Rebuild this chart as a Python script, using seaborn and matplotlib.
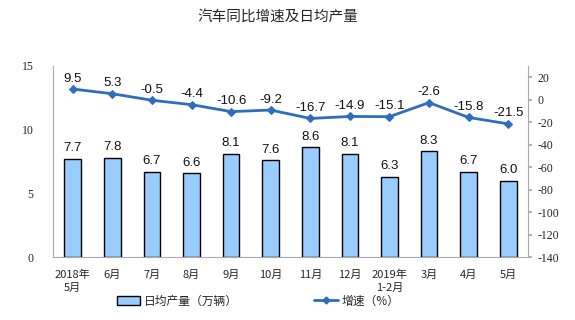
import matplotlib
matplotlib.use("Agg")
import matplotlib.pyplot as plt
import seaborn as sns
import pandas as pd
import numpy as np
from matplotlib.patches import Patch
from matplotlib.lines import Line2D

categories = ["2018年\n5月", "6月", "7月", "8月", "9月", "10月", "11月", "12月", "2019年\n1-2月", "3月", "4月", "5月"]
daily_output = [7.7, 7.8, 6.7, 6.6, 8.1, 7.6, 8.6, 8.1, 6.3, 8.3, 6.7, 6.0]
growth = [9.5, 5.3, -0.5, -4.4, -10.6, -9.2, -16.7, -14.9, -15.1, -2.6, -15.8, -21.5]
left_ticks = [0, 5, 10, 15]
right_ticks = [20, 0, -20, -40, -60, -80, -100, -120, -140]

sns.set_theme(style="white")
plt.rcParams['font.family'] = ['Noto Sans CJK SC', 'DejaVu Sans']

df = pd.DataFrame({"cat": categories, "out": daily_output, "g": growth, "x": range(len(categories))})

fig = plt.figure(figsize=(5.75, 3.2), dpi=100)
ax = fig.add_axes([53/575, 1 - 257/320, (528 - 53)/575, (257 - 66)/320])

bar_color = "#99CCFF"
line_color = "#2E6EBA"

sns.barplot(data=df, x="cat", y="out", ax=ax, color=bar_color, edgecolor="black",
            linewidth=1.0, width=0.42, saturation=1)
ax.set_ylim(0, 15)
ax.set_yticks(left_ticks)
ax.set_yticklabels([str(t) for t in left_ticks], family="Liberation Serif", fontsize=8.5)
ax.set_xlabel("")
ax.set_ylabel("")
ax.tick_params(axis="x", labelsize=8, pad=9, length=0)
for lab in ax.get_xticklabels():
    lab.set_linespacing(1.35)
ax.tick_params(axis="y", length=0, pad=14)
ax.set_xlim(-0.5, len(categories) - 0.5)
for i, v in enumerate(daily_output):
    ax.text(i, v + 0.35, f"{v:.1f}", ha="center", va="bottom", fontsize=9.5,
            family="Liberation Sans", color="#111111")

for s in ["top", "right"]:
    ax.spines[s].set_visible(False)
for s in ["left", "bottom"]:
    ax.spines[s].set_color("#AAAAAA")
    ax.spines[s].set_linewidth(0.8)
ax.set_xticks(np.arange(-0.5, len(categories), 1), minor=True)
ax.tick_params(axis="x", which="minor", length=3, color="#AAAAAA", direction="out")

ax2 = ax.twinx()
sns.lineplot(data=df, x="x", y="g", ax=ax2, color=line_color, linewidth=2,
             marker="D", markersize=4.5, markeredgecolor=line_color)
ax2.set_ylim(-140, 30)
ax2.set_yticks(right_ticks)
ax2.set_yticklabels([str(t) for t in right_ticks], family="Liberation Serif", fontsize=8.5)
ax2.set_ylabel("")
ax2.tick_params(axis="y", length=3, color="#AAAAAA", direction="out", pad=4)
for s in ["top", "left", "bottom"]:
    ax2.spines[s].set_visible(False)
ax2.spines["right"].set_color("#AAAAAA")
ax2.spines["right"].set_linewidth(0.8)
for i, v in enumerate(growth):
    ax2.text(i, v + 4, f"{v}", ha="center", va="bottom", fontsize=9.5,
             family="Liberation Sans", color="#111111")

fig.text(278/575, 1 - 17/320, "汽车同比增速及日均产量", ha="center", va="center", fontsize=10.5)

handles = [Patch(facecolor=bar_color, edgecolor="black", linewidth=1.0, label="日均产量（万辆）"),
           Line2D([0], [0], color=line_color, lw=2, marker="D", markersize=3.5, label="增速（%）")]
fig.legend(handles=handles, loc="center", bbox_to_anchor=(258/575, 1 - 301/320), ncol=2,
           frameon=False, fontsize=8.5, columnspacing=6.5, handlelength=2.0, handletextpad=0.3)

fig.savefig("out.png", dpi=100)
